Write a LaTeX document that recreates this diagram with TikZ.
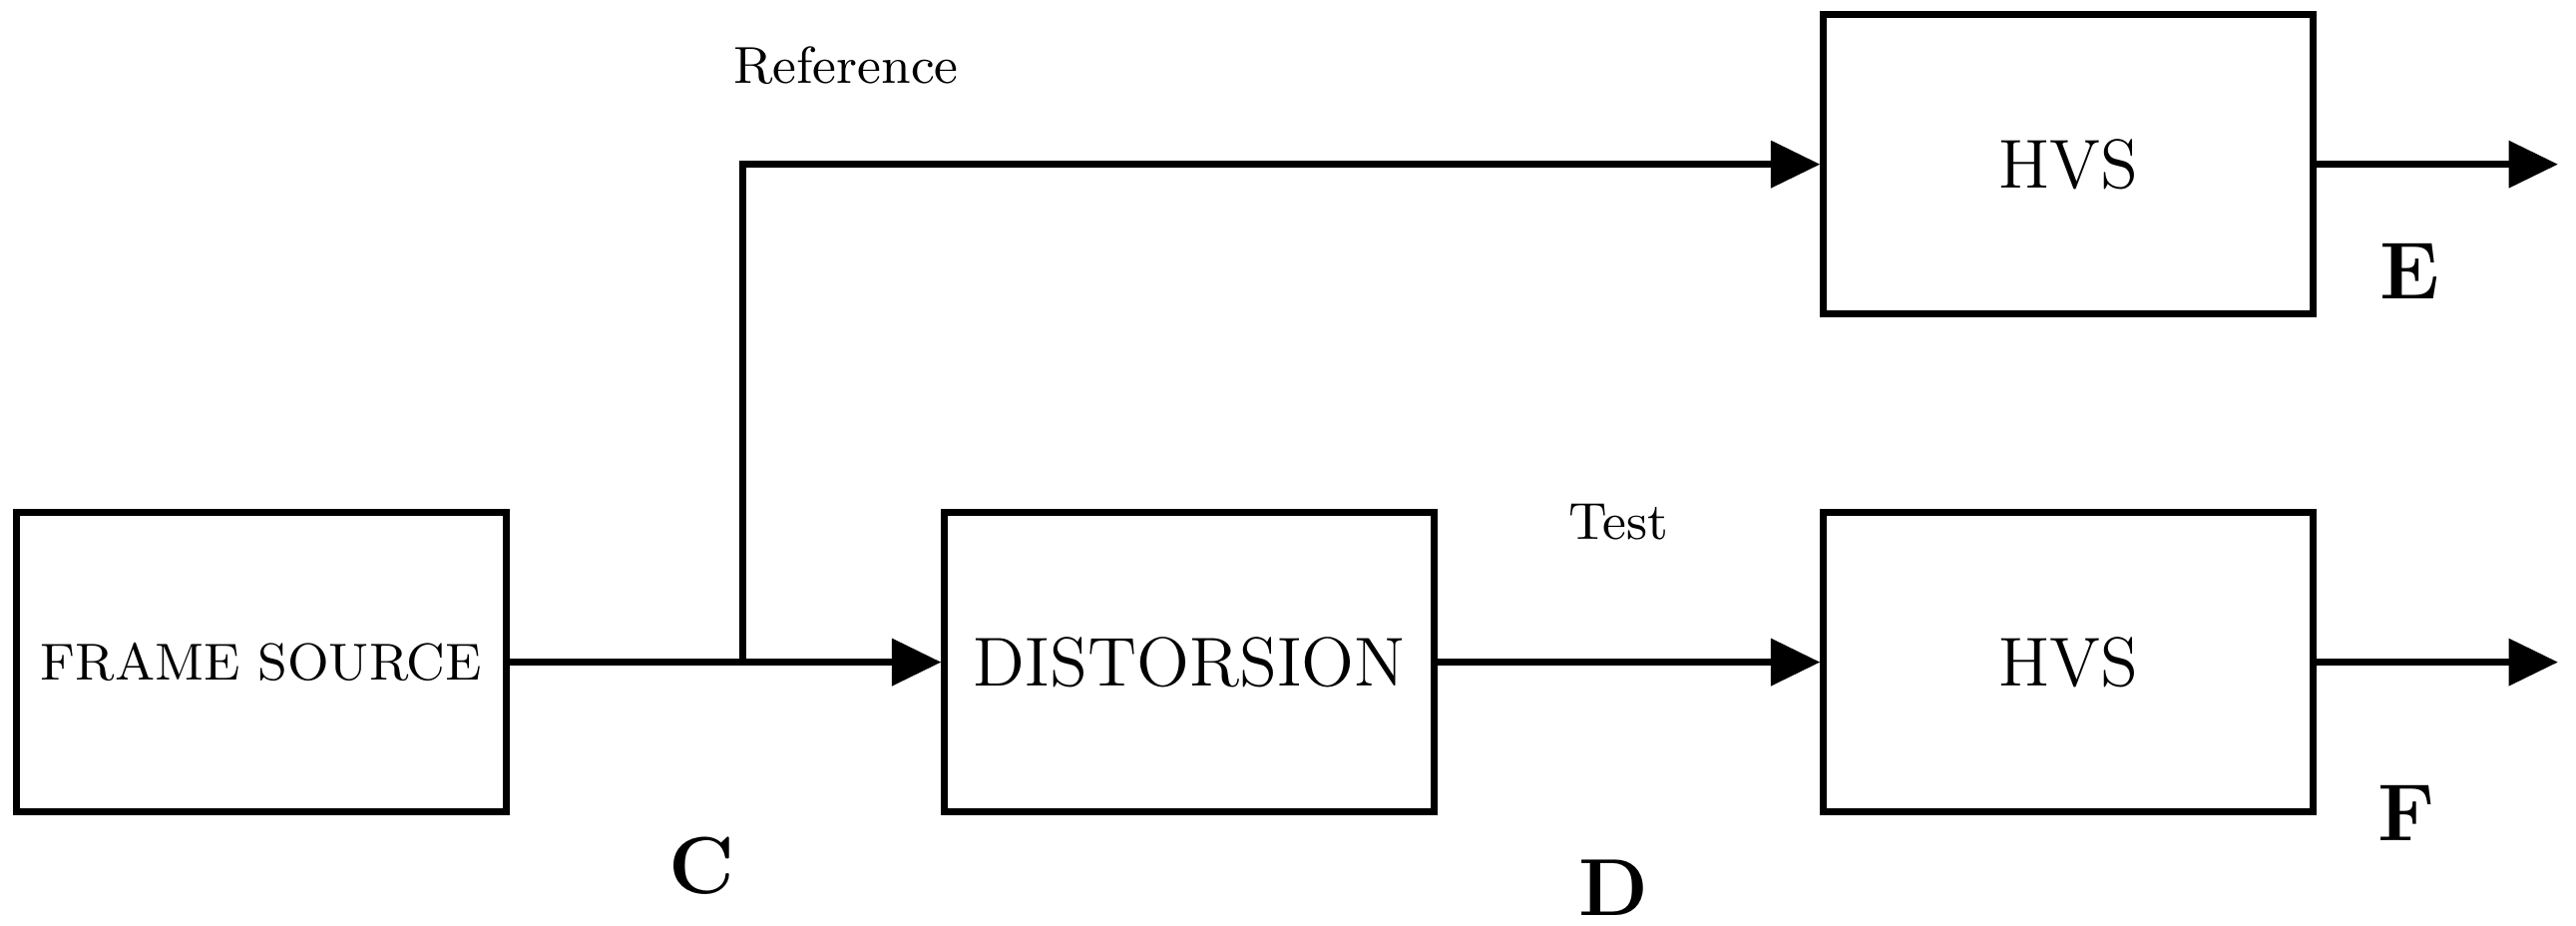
\documentclass[tikz,border=0pt]{standalone}
\usepackage{tikz}
\usetikzlibrary{arrows.meta, positioning}
\tikzset{block/.style={draw,line width=1.2pt,minimum width=2.98cm,minimum height=1.82cm,inner sep=0pt}}
\tikzset{sig/.style={line width=1.2pt,-{Triangle[length=3mm,width=2.8mm]}}}
\tikzset{lbl/.style={font=\bfseries\fontsize{14}{16}\selectfont}}
\begin{document}
\begin{tikzpicture}[
		x=1cm, y=1cm,
		semithick % line style
		]
		\useasboundingbox (0,0) rectangle (15.68,5.63);
		
		\node[block,font=\fontsize{9}{11}\selectfont] (src) at (1.59,1.60) {FRAME SOURCE};
		\node[block,font=\fontsize{12}{14}\selectfont] (dist) at (7.24,1.60) {DISTORSION};
		\node[block,font=\fontsize{12}{14}\selectfont] (hvs1) at (12.59,4.63) {HVS};
		\node[block,font=\fontsize{12}{14}\selectfont] (hvs2) at (12.59,1.60) {HVS};
		\coordinate (split) at (4.52,1.60);
		\coordinate (out1) at (15.57,4.63);
		\coordinate (out2) at (15.57,1.60);
		
		% Linear
		\draw[line width=1.2pt] (src) -- (split);
		\draw[sig] (split) -- (dist);
		\draw[sig] (dist) -- (hvs2);
		\draw[sig] (split) |- (hvs1);
		\draw[sig] (hvs1) -- (out1);
		\draw[sig] (hvs2) -- (out2);
		
		% Labels
		\node[font=\fontsize{9}{11}\selectfont] (ref) at (5.15,5.23) {Reference};
		\node[font=\fontsize{9}{11}\selectfont] (test) at (9.85,2.45) {Test};
		\node[lbl] (c) at (4.27,0.36) {C};
		\node[lbl] (d) at (9.82,0.23) {D};
		\node[lbl] (e) at (14.67,3.98) {E};
		\node[lbl] (f) at (14.65,0.68) {F};
\end{tikzpicture}
\end{document}
